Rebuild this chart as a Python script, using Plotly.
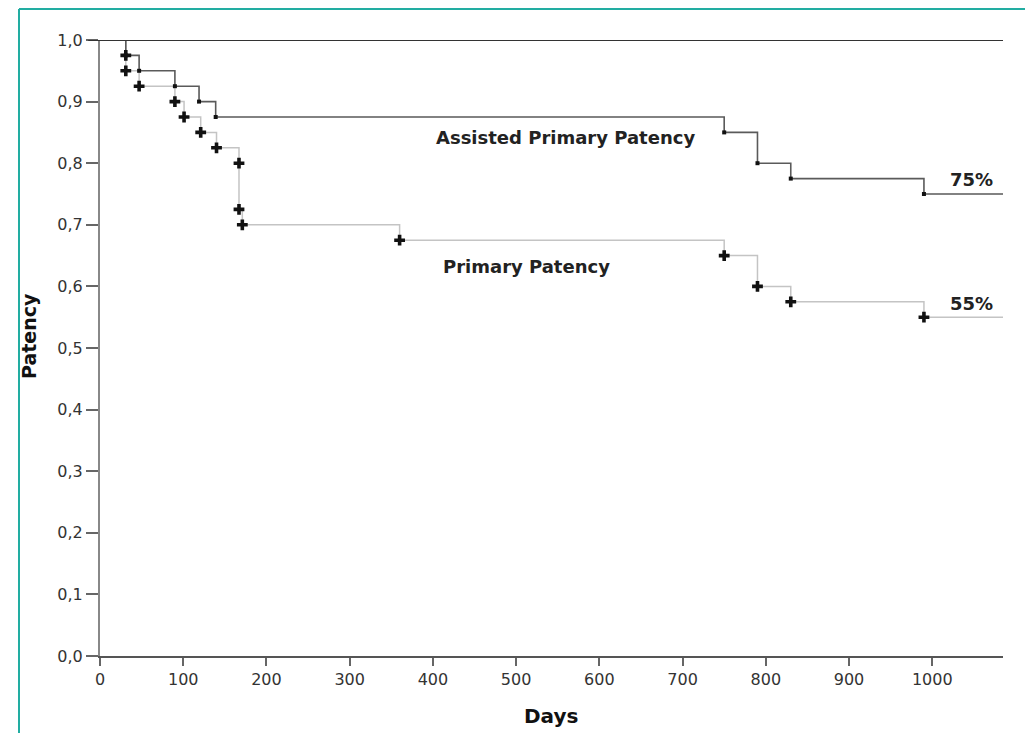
import plotly.graph_objects as go

# ---- data ----
assisted_days = [31, 47, 90, 119, 139, 750, 790, 830, 990]
assisted_surv = [0.975, 0.95, 0.925, 0.90, 0.875, 0.85, 0.80, 0.775, 0.75]

primary_days = [31, 31, 47, 90, 101, 121, 140, 167, 167, 171, 360, 750, 790, 830, 990]
primary_surv = [0.975, 0.95, 0.925, 0.90, 0.875, 0.85, 0.825, 0.80, 0.725, 0.70,
                0.675, 0.65, 0.60, 0.575, 0.55]

follow_up_end = 1085
x_ticks = [0, 100, 200, 300, 400, 500, 600, 700, 800, 900, 1000]
y_ticks = [0.0, 0.1, 0.2, 0.3, 0.4, 0.5, 0.6, 0.7, 0.8, 0.9, 1.0]
y_tick_labels = ["0,0", "0,1", "0,2", "0,3", "0,4", "0,5", "0,6", "0,7", "0,8", "0,9", "1,0"]

label_assisted = "Assisted Primary Patency"
label_primary = "Primary Patency"
final_assisted = "75%"
final_primary = "55%"

FONT = "DejaVu Sans"

fig = go.Figure()

# step lines
fig.add_trace(go.Scatter(
    x=[0] + primary_days + [follow_up_end],
    y=[1.0] + primary_surv + [primary_surv[-1]],
    mode="lines", line=dict(shape="hv", color="#c4c4c4", width=1.5),
    hoverinfo="skip", showlegend=False))
fig.add_trace(go.Scatter(
    x=[0] + assisted_days + [follow_up_end],
    y=[1.0] + assisted_surv + [assisted_surv[-1]],
    mode="lines", line=dict(shape="hv", color="#5a5a5a", width=1.6),
    hoverinfo="skip", showlegend=False))

# event markers
fig.add_trace(go.Scatter(
    x=assisted_days, y=assisted_surv, mode="markers",
    marker=dict(symbol="square", size=4, color="#111111"),
    cliponaxis=False, showlegend=False))
fig.add_trace(go.Scatter(
    x=primary_days, y=primary_surv, mode="markers",
    marker=dict(symbol="cross", size=9, color="#111111"),
    cliponaxis=False, showlegend=False))

# top reference line at 1.0
fig.add_shape(type="line", xref="paper", yref="y", x0=-0.013, x1=1.0, y0=1.0, y1=1.0,
              line=dict(color="#333333", width=2))

# teal frame
fx = (19 - 100) / 903
fy = 1 + (40 - 9) / 616
fb = (656 - 740) / 616
fr = 1 + (1030 - 1003) / 903
fig.add_shape(type="line", xref="paper", yref="paper", x0=fx, x1=fx, y0=fb, y1=fy,
              line=dict(color="#22ada2", width=2))
fig.add_shape(type="line", xref="paper", yref="paper", x0=fx, x1=fr, y0=fy, y1=fy,
              line=dict(color="#22ada2", width=2))

ann_font = dict(family=FONT, size=18, color="#222222")
for xx, yy, txt in [(559, 0.841, label_assisted), (513, 0.633, label_primary),
                    (1047, 0.773, final_assisted), (1047, 0.573, final_primary)]:
    fig.add_annotation(x=xx, y=yy, text="<b>" + txt + "</b>", showarrow=False, font=ann_font,
                       xanchor="center", yanchor="middle")

# axis titles
fig.add_annotation(xref="paper", yref="paper", x=(29 - 100) / 903, y=(656 - 336) / 616,
                   text="<b>Patency</b>", textangle=-90, showarrow=False,
                   xanchor="center", yanchor="middle",
                   font=dict(family=FONT, size=19, color="#111111"))
fig.add_annotation(xref="paper", yref="paper", x=(551 - 100) / 903, y=(656 - 716) / 616,
                   text="<b>Days</b>", showarrow=False, xanchor="center", yanchor="middle",
                   font=dict(family=FONT, size=20, color="#111111"))

fig.update_layout(
    width=1025, height=733,
    margin=dict(l=100, r=22, t=40, b=77),
    paper_bgcolor="white", plot_bgcolor="white",
    font=dict(family=FONT, size=16, color="#333333"),
)
fig.update_xaxes(
    range=[0, follow_up_end], tickvals=x_ticks, ticktext=[str(v) for v in x_ticks],
    showgrid=False, zeroline=False, showline=True, linecolor="#555555", linewidth=1.5,
    ticks="outside", ticklen=8, tickcolor="#666666", tickwidth=1.5,
    tickfont=dict(family=FONT, size=16, color="#333333"),
)
fig.update_yaxes(
    range=[0, 1.0], tickvals=y_ticks, ticktext=y_tick_labels,
    showgrid=False, zeroline=False, showline=True, linecolor="#888888", linewidth=2,
    ticks="outside", ticklen=12, tickcolor="#666666", tickwidth=1.5,
    tickfont=dict(family=FONT, size=16, color="#333333"),
)

fig.write_html("out.html")
